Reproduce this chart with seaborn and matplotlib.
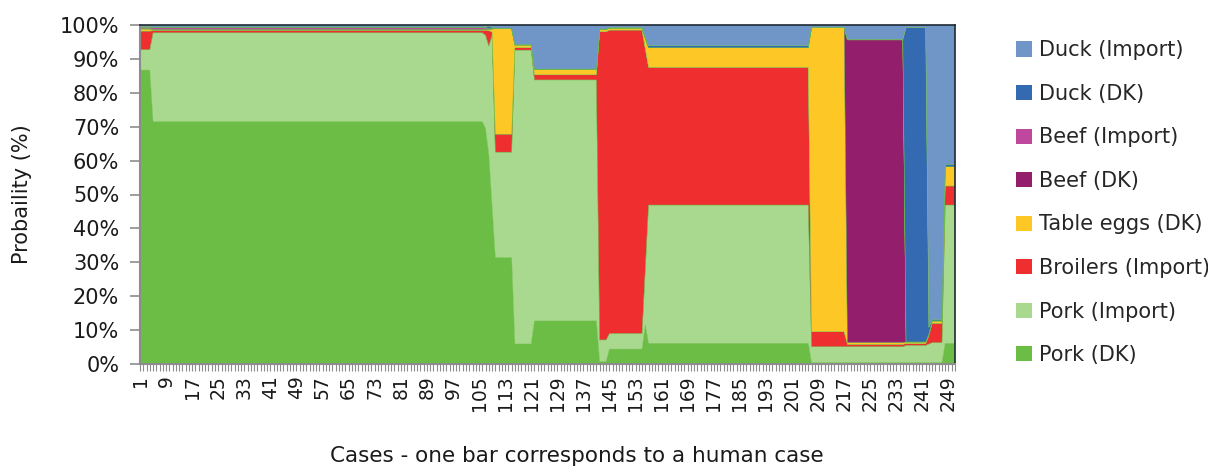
import matplotlib

matplotlib.use("Agg")
import matplotlib.pyplot as plt
import numpy as np
import pandas as pd
import seaborn as sns
from matplotlib.patches import Patch
from matplotlib.ticker import FuncFormatter

# run lengths of consecutive cases sharing the same attribution (cases 1..251)
run_lengths = [4, 102, 1, 1, 1, 6, 6, 20, 3, 11, 1, 50, 11, 18, 7, 1, 4, 4]

# probability (%) per run, bottom layer first
pork_dk = [86.7, 71.5, 69.5, 61.7, 46.5, 31.4, 5.9, 12.7, 0.7, 4.4, 11.5, 6.1, 0.4, 0.4, 0.4, 0.4, 0.4, 6.1]
pork_import = [6.0, 26.2, 27.5, 32.1, 50.5, 31.1, 86.7, 71.1, 6.4, 4.6, 16.5, 40.8, 4.7, 4.7, 5.1, 5.5, 5.9, 40.8]
broilers_import = [5.5, 0.6, 1.5, 4.5, 1.0, 5.3, 0.7, 1.5, 90.9, 89.5, 65.0, 40.6, 4.4, 0.7, 0.5, 2.5, 5.7, 5.6]
table_eggs_dk = [0.6, 0.2, 0.2, 0.3, 0.8, 31.1, 0.8, 1.6, 0.7, 0.6, 3.0, 5.8, 89.8, 0.5, 0.5, 0.4, 0.7, 5.7]
beef_dk = [0.2, 0.2, 0.2, 0.1, 0.1, 0.0, 0.0, 0.0, 0.0, 0.0, 0.0, 0.0, 0.0, 89.3, 0.0, 0.0, 0.0, 0.0]
beef_import = [0.3, 0.5, 0.4, 0.2, 0.1, 0.0, 0.0, 0.0, 0.0, 0.0, 0.0, 0.0, 0.0, 0.1, 0.0, 0.0, 0.0, 0.0]
duck_dk = [0.2, 0.2, 0.2, 0.8, 0.3, 0.1, 0.1, 0.1, 0.1, 0.1, 0.3, 0.6, 0.0, 0.0, 92.8, 2.0, 0.3, 0.7]
duck_import = [0.5, 0.6, 0.5, 0.3, 0.7, 1.0, 5.8, 13.0, 1.2, 0.8, 3.7, 6.1, 0.7, 4.3, 0.7, 89.2, 87.0, 41.1]

series_names = [
    "Pork (DK)", "Pork (Import)", "Broilers (Import)", "Table eggs (DK)",
    "Beef (DK)", "Beef (Import)", "Duck (DK)", "Duck (Import)",
]
series_colors = [
    "#6CBD45", "#A9D88F", "#EE2E2F", "#FDC826",
    "#921E6C", "#BE489E", "#336AB2", "#7096C8",
]

runs = pd.DataFrame(
    {
        "Pork (DK)": pork_dk,
        "Pork (Import)": pork_import,
        "Broilers (Import)": broilers_import,
        "Table eggs (DK)": table_eggs_dk,
        "Beef (DK)": beef_dk,
        "Beef (Import)": beef_import,
        "Duck (DK)": duck_dk,
        "Duck (Import)": duck_import,
    }
)
df = runs.loc[runs.index.repeat(run_lengths)].reset_index(drop=True)
df.index = np.arange(1, len(df) + 1)

sns.set_theme(style="white")
plt.rcParams["font.family"] = ["DejaVu Sans"]

fig = plt.figure(figsize=(12.08, 4.68), dpi=100)
ax = fig.add_axes([140 / 1208, 1 - 364 / 468, 815 / 1208, 339 / 468])

palette = sns.color_palette(series_colors)
ax.stackplot(
    df.index, [df[name] for name in series_names],
    colors=palette, linewidth=0.3, edgecolors=palette,
)

ax.set_xlim(1, len(df))
ax.set_ylim(0, 100)
ax.set_yticks(np.arange(0, 101, 10))
ax.yaxis.set_major_formatter(FuncFormatter(lambda v, _: f"{v:.0f}%"))
ax.set_xticks(df.index)
ax.set_xticklabels([str(c) if (c - 1) % 8 == 0 else "" for c in df.index], rotation=90)
ax.tick_params(axis="y", which="both", left=True, length=7, width=1.2, color="#8C8C8C",
               labelsize=15, pad=8, labelcolor="#1a1a1a")
ax.tick_params(axis="x", which="both", bottom=True, length=5, width=0.8, color="#8C8C8C",
               labelsize=13.5, pad=3, labelcolor="#1a1a1a")

for side in ["left", "bottom"]:
    ax.spines[side].set_color("#8C8C8C")
    ax.spines[side].set_linewidth(1.5)
for side in ["top", "right"]:
    ax.spines[side].set_color("#1F2A36")
    ax.spines[side].set_linewidth(1.2)

fig.text(22 / 1208, 1 - 194 / 468, "Probaility (%)", rotation=90, ha="center", va="center",
         fontsize=15, color="#1a1a1a")
fig.text(577 / 1208, 1 - 456 / 468, "Cases - one bar corresponds to a human case",
         ha="center", va="center", fontsize=15.5, color="#1a1a1a")

handles = [Patch(facecolor=c, edgecolor="none") for c in series_colors][::-1]
fig.legend(
    handles, series_names[::-1], loc="upper left", bbox_to_anchor=(1008 / 1208, 1 - 32 / 468),
    frameon=False, fontsize=15, handlelength=0.75, handleheight=0.75, handletextpad=0.35,
    labelspacing=1.13, borderaxespad=0,
)

fig.savefig("out.png", dpi=100)
